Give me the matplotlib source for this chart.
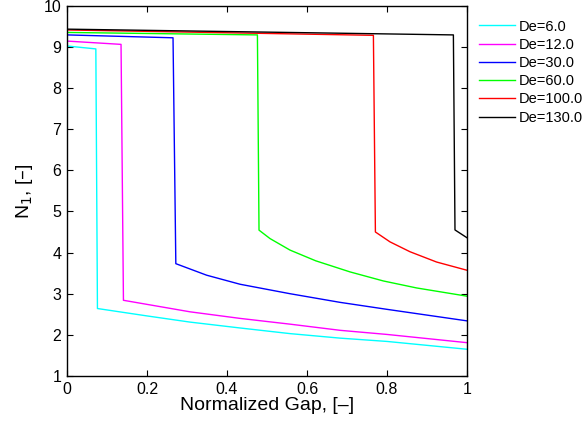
import matplotlib
matplotlib.use("Agg")
import matplotlib.pyplot as plt

plt.rcParams.update({
    "font.family": ["Liberation Sans", "DejaVu Sans"],
    "font.size": 11.5,
    "xtick.direction": "in",
    "ytick.direction": "in",
    "xtick.top": True,
    "ytick.right": True,
    "axes.linewidth": 1.0,
})

# ---------------------------------------------------------------------------
# DATA
# ---------------------------------------------------------------------------

labels = ["De=6.0", "De=12.0", "De=30.0", "De=60.0", "De=100.0", "De=130.0"]
colors = ["#00ffff", "#ff00ff", "#0000ff", "#00ff00", "#ff0000", "#000000"]

x_de6 = [0, 0.072, 0.076, 0.2, 0.3075, 0.43, 0.5575, 0.683, 0.8, 1.0]
y_de6 = [9.02, 8.95, 2.64, 2.46, 2.31, 2.17, 2.03, 1.92, 1.84, 1.65]

x_de12 = [0, 0.135, 0.141, 0.3075, 0.4325, 0.5575, 0.683, 0.8, 1.0]
y_de12 = [9.14, 9.06, 2.84, 2.56, 2.40, 2.26, 2.11, 2.01, 1.81]

x_de30 = [0, 0.265, 0.272, 0.349, 0.4325, 0.5575, 0.6825, 0.8, 1.0]
y_de30 = [9.29, 9.22, 3.73, 3.45, 3.23, 3.00, 2.79, 2.62, 2.34]

x_de60 = [0, 0.476, 0.48, 0.5075, 0.5575, 0.6217, 0.7075, 0.7908, 0.874, 1.0]
y_de60 = [9.35, 9.29, 4.545, 4.34, 4.06, 3.80, 3.53, 3.31, 3.14, 2.94]

x_de100 = [0, 0.766, 0.771, 0.8075, 0.8575, 0.924, 1.0]
y_de100 = [9.41, 9.28, 4.50, 4.26, 4.02, 3.77, 3.57]

x_de130 = [0, 0.966, 0.97, 1.0]
y_de130 = [9.43, 9.29, 4.55, 4.36]

xs = [x_de6, x_de12, x_de30, x_de60, x_de100, x_de130]
ys = [y_de6, y_de12, y_de30, y_de60, y_de100, y_de130]

# ---------------------------------------------------------------------------
# FIGURE
# ---------------------------------------------------------------------------

fig = plt.figure(figsize=(5.83, 4.25), dpi=100)
ax = fig.add_axes([0.115, 0.1153, 0.686, 0.8713])

for x, y, c, lab in zip(xs, ys, colors, labels):
    ax.plot(x, y, color=c, linewidth=1.0, label=lab)

ax.set_xlim(0, 1)
ax.set_ylim(1, 10)
ax.set_xticks([0, 0.2, 0.4, 0.6, 0.8, 1])
ax.set_xticklabels(["0", "0.2", "0.4", "0.6", "0.8", "1"])
ax.set_yticks(range(1, 11))
ax.tick_params(length=4, width=0.8, pad=4)

ax.set_xlabel("Normalized Gap, [\u2013]", fontsize=14, labelpad=0)
ax.set_ylabel("N$_1$, [\u2013]", fontsize=14, labelpad=6)

ax.legend(loc="upper left", bbox_to_anchor=(0.8216, 0.954),
          bbox_transform=fig.transFigure, frameon=False,
          handlelength=2.45, handletextpad=0.27, labelspacing=0.29,
          borderpad=0, borderaxespad=0, fontsize=10.5)

fig.savefig("out.png", dpi=100)
